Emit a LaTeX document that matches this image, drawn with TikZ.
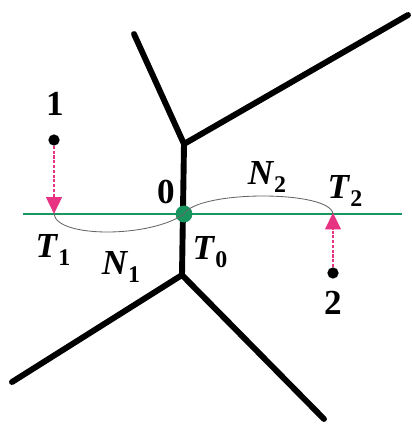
\documentclass[tikz,border=0pt]{standalone}
\usepackage{fontspec}
\setmainfont{Liberation Serif}
\usetikzlibrary{arrows.meta}
\newcommand{\sublab}[2]{\textbf{\textit{#1}}\raisebox{-0.5ex}{\fontsize{17}{18}\selectfont\textbf{#2}}}
\definecolor{trgreen}{RGB}{25,150,95}
\definecolor{trpink}{RGB}{232,50,130}

\begin{document}
\begin{tikzpicture}[
  x=0.025cm, y=-0.025cm,
  font=\fontsize{25}{27}\selectfont\bfseries,
  wall/.style={line width=4.2pt,line cap=round,line join=round},
  scanline/.style={line width=1.8pt,draw=trgreen},
  probe/.style={-{Triangle[length=12pt,width=11pt]},dash pattern=on 2.2pt off 1.2pt,line width=2pt,draw=trpink,color=trpink},
  site/.style={circle,fill=black,inner sep=0pt,minimum size=8pt},
  arc/.style={draw=black!60,line width=0.6pt}
]
\useasboundingbox (0,0) rectangle (412,424);

% cell boundaries
\coordinate (ju) at (184,144);
\coordinate (jl) at (182,275);
\coordinate (ul) at (134,34);
\coordinate (ur) at (408,15);
\coordinate (ll) at (12,382);
\coordinate (lr) at (324,419);
\draw[wall] (ul) -- (ju) -- (ur);
\draw[wall] (ju) -- (jl);
\draw[wall] (ll) -- (jl) -- (lr);

% trace line
\coordinate (gl) at (23,214);
\coordinate (gr) at (402,214);
\draw[scanline] (gl) -- (gr);
\node[circle,fill=trgreen,inner sep=0pt,minimum size=12pt] (t0) at (184,214) {};

% receivers and traces
\coordinate (t1) at (54,214);
\coordinate (t2) at (333,214);
\node[site] (s1) at (54,140) {};
\node[site] (s2) at (333,273) {};
\draw[probe] (s1) -- (t1);
\draw[probe] (s2) -- ([yshift=1pt]t2);

\draw[arc] (t1) .. controls (57,238) and (150,238) .. (t0.center);
\draw[arc] (t0.center) .. controls (198,190) and (331,190) .. (t2);

% labels
\node (n1) at (55,104) {1};
\node (n2) at (333,303) {2};
\node (n0) at (166,192) {0};
\node (lt1) at (53,250) {\sublab{T}{1}};
\node (lt0) at (210,252) {\sublab{T}{0}};
\node (lt2) at (345,191) {\sublab{T}{2}};
\node (ln1) at (121,267) {\sublab{N}{1}};
\node (ln2) at (267,177) {\sublab{N}{2}};
\end{tikzpicture}
\end{document}
